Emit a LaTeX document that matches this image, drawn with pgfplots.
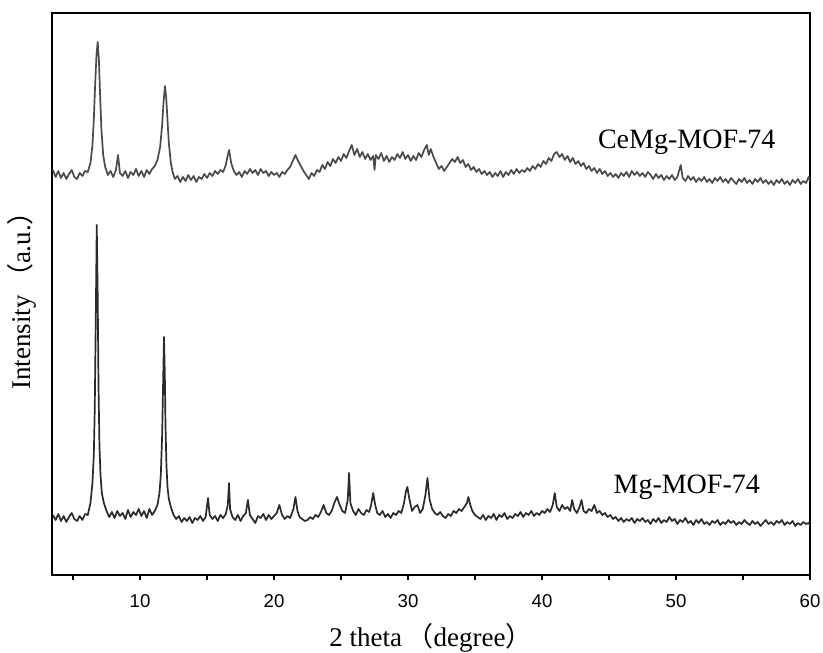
\documentclass[border=0pt]{standalone}
\usepackage{pgfplots}
\pgfplotsset{compat=1.18}
\usepackage{fontspec}
\setmainfont{Liberation Serif}
\newfontfamily\ticksf{Liberation Sans}
\newfontfamily\cjk{Noto Sans CJK SC}

\definecolor{mgline}{HTML}{2A2A2A}
\definecolor{cemgline}{HTML}{4A4A4A}

\pgfplotstableread{
x y
3.5 60
3.7 55
3.9 61
4.1 54
4.3 59
4.5 53
4.7 58
4.9 62
5.1 56
5.3 54
5.5 59
5.7 55
5.9 61
6.1 60
6.3 72
6.45 92
6.55 120
6.62 165
6.7 260
6.77 350
6.84 280
6.9 190
6.97 130
7.05 100
7.15 82
7.3 72
7.5 64
7.7 58
7.9 63
8.1 57
8.3 64
8.5 59
8.7 62
8.9 56
9.1 65
9.3 58
9.5 63
9.7 60
9.9 66
10.1 59
10.3 64
10.5 57
10.7 66
10.9 60
11.1 64
11.3 70
11.45 82
11.55 100
11.65 140
11.72 190
11.79 238
11.85 200
11.9 150
11.97 110
12.05 88
12.15 76
12.3 68
12.5 60
12.7 56
12.9 59
13.1 53
13.3 57
13.5 54
13.7 58
13.9 52
14.1 57
14.3 55
14.5 59
14.7 54
14.9 58
15.07 77
15.2 60
15.4 56
15.6 59
15.8 54
16.0 60
16.2 57
16.4 61
16.55 70
16.64 92
16.72 66
16.9 58
17.1 55
17.3 60
17.5 54
17.7 59
17.9 62
18.05 75
18.2 60
18.4 56
18.6 52
18.8 59
19.0 57
19.2 61
19.4 55
19.6 60
19.8 56
20.0 59
20.2 62
20.4 70
20.6 60
20.8 56
21.0 59
21.2 57
21.45 66
21.6 78
21.75 64
21.9 58
22.1 56
22.3 54
22.5 55
22.7 58
22.9 56
23.1 60
23.3 58
23.5 63
23.7 70
23.9 62
24.1 60
24.3 64
24.5 72
24.7 78
24.9 70
25.1 64
25.3 62
25.5 75
25.6 102
25.7 72
25.9 64
26.1 60
26.3 66
26.5 62
26.7 60
26.9 65
27.1 63
27.25 70
27.4 82
27.55 70
27.7 62
27.9 60
28.1 64
28.3 58
28.5 61
28.7 57
28.9 62
29.1 60
29.3 64
29.5 62
29.7 72
29.85 84
29.95 88
30.1 76
30.3 64
30.5 68
30.7 70
30.9 62
31.1 66
31.3 80
31.45 97
31.6 76
31.8 66
32.0 62
32.2 60
32.4 63
32.6 59
32.8 57
33.0 61
33.2 59
33.4 64
33.6 62
33.8 66
34.0 64
34.2 68
34.4 72
34.5 78
34.65 70
34.8 64
35.0 60
35.2 58
35.4 56
35.6 60
35.8 55
36.0 59
36.2 57
36.4 61
36.6 55
36.8 60
37.0 58
37.2 62
37.4 56
37.6 59
37.8 57
38.0 61
38.2 59
38.4 63
38.6 58
38.8 62
39.0 60
39.2 64
39.4 59
39.6 62
39.8 60
40.0 64
40.2 62
40.4 66
40.6 63
40.8 70
40.95 82
41.1 68
41.3 64
41.5 70
41.7 66
41.9 68
42.1 64
42.25 75
42.4 66
42.6 62
42.8 68
42.95 75
43.1 64
43.3 62
43.5 66
43.7 64
43.9 70
44.1 62
44.3 64
44.5 60
44.7 62
44.9 58
45.1 60
45.3 56
45.5 58
45.7 54
45.9 57
46.1 53
46.3 56
46.5 54
46.7 57
46.9 52
47.1 56
47.3 54
47.5 57
47.7 53
47.9 55
48.1 51
48.3 56
48.5 53
48.7 57
48.9 52
49.1 55
49.3 53
49.5 58
49.7 54
49.9 56
50.1 51
50.3 55
50.5 53
50.7 57
50.9 52
51.1 54
51.3 50
51.5 55
51.7 52
51.9 56
52.1 51
52.3 53
52.5 50
52.7 54
52.9 52
53.1 55
53.3 50
53.5 53
53.7 51
53.9 55
54.1 52
54.3 54
54.5 50
54.7 53
54.9 51
55.1 55
55.3 52
55.5 50
55.7 54
55.9 51
56.1 53
56.3 49
56.5 52
56.7 55
56.9 51
57.1 53
57.3 50
57.5 54
57.7 52
57.9 55
58.1 50
58.3 53
58.5 51
58.7 54
58.9 49
59.1 52
59.3 50
59.5 53
59.7 51
59.9 52
60.0 50
}\mgdata

\pgfplotstableread{
x y
3.5 405
3.7 398
3.9 404
4.1 397
4.3 402
4.5 396
4.7 401
4.9 405
5.1 398
5.3 396
5.5 402
5.7 399
5.9 404
6.1 403
6.3 412
6.45 430
6.55 455
6.65 490
6.75 520
6.84 533
6.93 515
7.02 480
7.12 445
7.25 420
7.4 408
7.6 400
7.8 404
8.0 398
8.2 405
8.36 420
8.5 402
8.7 399
8.9 404
9.1 397
9.3 403
9.5 400
9.7 406
9.9 399
10.1 404
10.3 398
10.5 405
10.7 401
10.9 406
11.1 409
11.3 415
11.5 428
11.65 450
11.75 472
11.86 489
11.95 478
12.05 455
12.15 432
12.3 412
12.45 402
12.6 396
12.8 399
13.0 393
13.2 398
13.4 394
13.6 400
13.8 395
14.0 399
14.2 393
14.4 398
14.6 396
14.8 401
15.0 397
15.2 402
15.4 399
15.6 404
15.8 401
16.0 405
16.2 403
16.4 410
16.55 420
16.65 425
16.8 412
17.0 404
17.2 400
17.4 403
17.6 398
17.8 404
18.0 401
18.2 406
18.4 402
18.6 405
18.8 400
19.0 406
19.2 402
19.4 404
19.6 399
19.8 403
20.0 400
20.2 402
20.4 398
20.6 403
20.8 401
21.0 405
21.2 408
21.4 414
21.6 420
21.8 414
22.0 409
22.2 404
22.4 400
22.6 396
22.8 402
23.0 399
23.2 405
23.4 403
23.6 410
23.8 406
24.0 413
24.2 409
24.4 416
24.6 412
24.8 418
25.0 414
25.2 421
25.4 417
25.6 424
25.8 430
26.0 420
26.2 426
26.4 418
26.6 423
26.8 416
27.0 421
27.2 415
27.4 419
27.5 405
27.6 420
27.8 416
28.0 422
28.2 414
28.4 419
28.6 413
28.8 418
29.0 415
29.2 421
29.4 417
29.6 423
29.8 416
30.0 420
30.2 414
30.4 419
30.6 415
30.8 422
31.0 418
31.2 425
31.4 430
31.55 420
31.7 426
31.9 418
32.1 412
32.3 406
32.5 409
32.7 404
32.9 408
33.1 412
33.3 416
33.5 413
33.7 418
33.9 412
34.1 415
34.3 408
34.5 411
34.7 405
34.9 408
35.1 403
35.3 406
35.5 401
35.7 404
35.9 400
36.1 403
36.3 398
36.5 402
36.7 399
36.9 404
37.1 398
37.3 403
37.5 400
37.7 405
37.9 401
38.1 406
38.3 402
38.5 405
38.7 403
38.9 407
39.1 404
39.3 409
39.5 406
39.7 411
39.9 408
40.1 414
40.3 411
40.5 417
40.7 414
40.9 421
41.1 423
41.3 418
41.5 421
41.7 415
41.9 419
42.1 413
42.3 417
42.5 411
42.7 414
42.9 409
43.1 412
43.3 406
43.5 409
43.7 404
43.9 407
44.1 402
44.3 406
44.5 401
44.7 404
44.9 399
45.1 402
45.3 398
45.5 401
45.7 397
45.9 402
46.1 399
46.3 403
46.5 398
46.7 404
46.9 400
47.1 403
47.3 399
47.5 402
47.7 398
47.9 403
48.1 400
48.3 396
48.5 401
48.7 397
48.9 400
49.1 395
49.3 399
49.5 396
49.7 400
49.9 395
50.1 398
50.35 410
50.5 397
50.7 394
50.9 399
51.1 395
51.3 398
51.5 393
51.7 397
51.9 394
52.1 398
52.3 393
52.5 396
52.7 392
52.9 397
53.1 394
53.3 398
53.5 393
53.7 396
53.9 392
54.1 397
54.3 394
54.5 391
54.7 396
54.9 393
55.1 397
55.3 392
55.5 395
55.7 391
55.9 396
56.1 393
56.3 397
56.5 392
56.7 395
56.9 391
57.1 394
57.3 390
57.5 395
57.7 392
57.9 396
58.1 391
58.3 394
58.5 390
58.7 395
58.9 392
59.1 396
59.3 391
59.5 394
59.7 392
59.9 398
60.0 394
}\cemgdata

\begin{document}
\begin{tikzpicture}
\begin{axis}[
    width=379pt, height=281pt, scale only axis,
    xmin=3.43, xmax=60, ymin=0, ymax=562,
    axis line style={line width=0.7pt},
    xtick={10,20,...,60},
    minor xtick={5,15,...,55},
    ytick=\empty,
    xtick pos=bottom,
    tick align=outside,
    major tick length=2.5pt, minor tick length=2.5pt,
    tick style={line width=0.7pt, black},
    /pgf/number format/assume math mode=true,
    xticklabel style={font=\ticksf\fontsize{9.3}{10}\selectfont, yshift=-3.5pt},
    xlabel={2 theta\,{\cjk （}degree{\cjk ）}},
    ylabel={Intensity\,{\cjk （}a.u.{\cjk ）}},
    label style={font=\fontsize{13.5}{15}\selectfont},
    xlabel style={at={(axis description cs:0.5,0)}, anchor=center, yshift=-31.5pt},
    ylabel style={at={(axis description cs:0,0.5)}, anchor=center, yshift=15pt},
]
\addplot[mgline, line width=0.85pt, line join=round] table[x=x, y=y] {\mgdata};
\addplot[cemgline, line width=0.85pt, line join=round] table[x=x, y=y] {\cemgdata};
\node[font=\fontsize{14}{16}\selectfont] at (axis cs:50.8,433) {CeMg-MOF-74};
\node[font=\fontsize{14}{16}\selectfont] at (axis cs:50.8,88) {Mg-MOF-74};
\end{axis}
\pgfresetboundingbox
\path ([shift={(-26pt,-38.5pt)}]current axis.south west) rectangle ([shift={(6.5pt,6.5pt)}]current axis.north east);
\end{tikzpicture}
\end{document}
